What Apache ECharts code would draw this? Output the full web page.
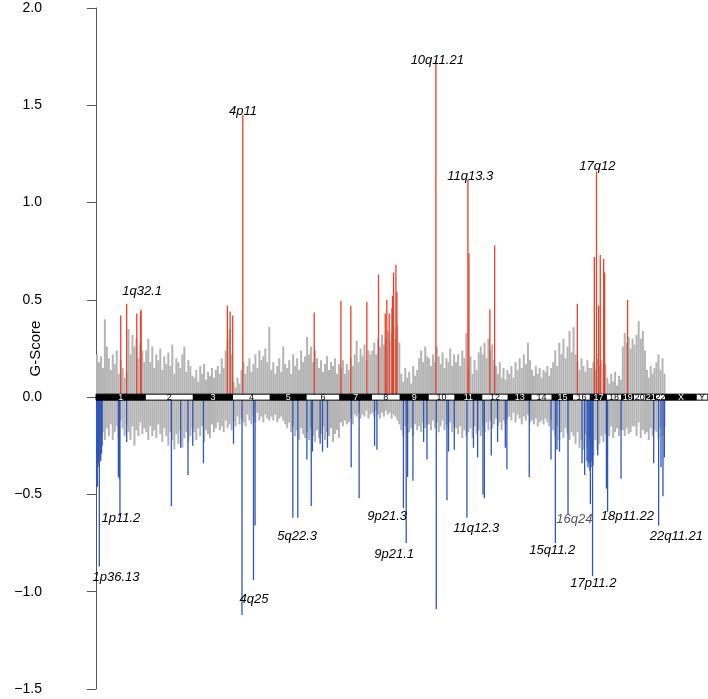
<!DOCTYPE html>
<html><head><meta charset="utf-8">
<script src="https://cdn.jsdelivr.net/npm/echarts@6/dist/echarts.min.js"></script>
<style>html,body{margin:0;padding:0;background:#fff}#c{width:708px;height:699px}</style>
</head><body><div id="c"></div>
<script>
// ---- data ----
const chromNames = ['1','2','3','4','5','6','7','8','9','10','11','12','13','14','15','16','17','18','19','20','21','22','X','Y'];
const chromLengths = [249,243,198,191,181,171,159,146,141,136,135,134,115,107,103,90,81,78,59,63,48,51,155,59];

// gray (non-significant) G-scores per chromosome, amplification side
const grayAmp = [
 [0.22,0.18,0.21,0.15,0.40,0.26,0.20,0.14,0.22,0.17,0.24,0.12,0.19,0.15,0.10,0.13,0.35,0.22,0.32,0.26,0.30,0.20,0.28,0.24,0.18],
 [0.24,0.30,0.18,0.26,0.15,0.22,0.19,0.25,0.14,0.21,0.17,0.23,0.16,0.27,0.12,0.20,0.18,0.15,0.22,0.26,0.13,0.19,0.16,0.11],
 [0.10,0.14,0.08,0.16,0.12,0.17,0.09,0.13,0.11,0.15,0.10,0.14,0.16,0.12,0.20,0.15,0.24,0.30,0.35,0.22],
 [0.08,0.05,0.10,0.07,0.14,0.18,0.12,0.16,0.20,0.13,0.17,0.22,0.15,0.24,0.19,0.21,0.25,0.18,0.36],
 [0.14,0.18,0.12,0.16,0.20,0.13,0.26,0.17,0.15,0.19,0.12,0.22,0.16,0.20,0.14,0.24,0.18,0.21],
 [0.31,0.22,0.26,0.18,0.24,0.20,0.15,0.19,0.13,0.17,0.21,0.14,0.18,0.16,0.20,0.12,0.17],
 [0.15,0.19,0.12,0.17,0.14,0.20,0.16,0.22,0.29,0.18,0.25,0.21,0.27,0.19,0.24,0.22],
 [0.24,0.28,0.22,0.30,0.26,0.32,0.27,0.30,0.34,0.29,0.33,0.36,0.30,0.37,0.28],
 [0.12,0.08,0.15,0.10,0.13,0.07,0.16,0.11,0.14,0.20,0.24,0.18,0.26,0.21],
 [0.20,0.16,0.22,0.18,0.26,0.21,0.17,0.23,0.15,0.20,0.18,0.25,0.16,0.22],
 [0.18,0.22,0.16,0.24,0.20,0.33,0.15,0.21,0.12,0.19,0.14,0.23,0.26],
 [0.22,0.28,0.20,0.30,0.24,0.27,0.19,0.16,0.12,0.18,0.10,0.15,0.09,0.14],
 [0.12,0.16,0.10,0.18,0.14,0.20,0.15,0.22,0.17,0.28,0.19],
 [0.14,0.11,0.16,0.12,0.15,0.10,0.14,0.13,0.16,0.11,0.15],
 [0.18,0.24,0.16,0.28,0.22,0.30,0.20,0.26,0.34,0.23],
 [0.36,0.22,0.18,0.14,0.20,0.16,0.13,0.19,0.15],
 [0.15,0.18,0.14,0.20,0.16,0.19,0.15,0.17],
 [0.10,0.07,0.12,0.08,0.13,0.06,0.11,0.09],
 [0.26,0.33,0.28,0.31,0.25,0.30],
 [0.27,0.32,0.39,0.30,0.34,0.24],
 [0.14,0.10,0.16,0.12,0.15],
 [0.18,0.22,0.14,0.20,0.12]
];
// gray G-scores per chromosome, deletion side
const grayDel = [
 [-0.30,-0.28,-0.20,-0.18,-0.22,-0.16,-0.20,-0.14,-0.22,-0.18,-0.15,-0.21,-0.12,-0.16,-0.20,-0.14,-0.18,-0.22,-0.15,-0.25,-0.17,-0.20,-0.13,-0.19,-0.16],
 [-0.18,-0.22,-0.15,-0.20,-0.17,-0.21,-0.14,-0.19,-0.23,-0.16,-0.20,-0.25,-0.18,-0.22,-0.27,-0.19,-0.24,-0.17,-0.26,-0.21,-0.18,-0.23,-0.20,-0.16],
 [-0.18,-0.22,-0.16,-0.20,-0.15,-0.23,-0.17,-0.19,-0.21,-0.14,-0.18,-0.16,-0.13,-0.17,-0.15,-0.18,-0.12,-0.16,-0.14,-0.17],
 [-0.12,-0.15,-0.10,-0.14,-0.11,-0.13,-0.15,-0.09,-0.12,-0.14,-0.10,-0.13,-0.08,-0.12,-0.10,-0.13,-0.09,-0.11,-0.12],
 [-0.10,-0.12,-0.09,-0.13,-0.11,-0.10,-0.12,-0.14,-0.16,-0.13,-0.18,-0.15,-0.20,-0.17,-0.22,-0.16,-0.19,-0.21],
 [-0.18,-0.22,-0.16,-0.20,-0.23,-0.17,-0.21,-0.19,-0.15,-0.22,-0.18,-0.20,-0.16,-0.23,-0.19,-0.17,-0.21],
 [-0.13,-0.15,-0.12,-0.14,-0.13,-0.11,-0.14,-0.09,-0.10,-0.08,-0.11,-0.09,-0.10,-0.07,-0.11,-0.09],
 [-0.08,-0.10,-0.07,-0.09,-0.11,-0.08,-0.10,-0.07,-0.09,-0.08,-0.11,-0.09,-0.10,-0.12,-0.14],
 [-0.17,-0.20,-0.15,-0.19,-0.18,-0.16,-0.20,-0.14,-0.17,-0.15,-0.18,-0.13,-0.16,-0.14],
 [-0.14,-0.17,-0.12,-0.16,-0.13,-0.18,-0.15,-0.12,-0.17,-0.14,-0.16,-0.13,-0.18,-0.15],
 [-0.16,-0.19,-0.15,-0.21,-0.17,-0.20,-0.18,-0.16,-0.21,-0.15,-0.19,-0.17,-0.20],
 [-0.15,-0.18,-0.13,-0.17,-0.12,-0.16,-0.14,-0.11,-0.15,-0.13,-0.17,-0.12,-0.14,-0.11],
 [-0.10,-0.12,-0.08,-0.13,-0.09,-0.11,-0.14,-0.10,-0.12,-0.09,-0.13],
 [-0.12,-0.14,-0.11,-0.15,-0.13,-0.12,-0.14,-0.11,-0.13,-0.15,-0.12],
 [-0.17,-0.20,-0.15,-0.22,-0.18,-0.21,-0.16,-0.19,-0.22,-0.18],
 [-0.20,-0.24,-0.18,-0.26,-0.22,-0.27,-0.19,-0.25,-0.21],
 [-0.25,-0.30,-0.22,-0.27,-0.24,-0.20,-0.23,-0.19],
 [-0.17,-0.20,-0.15,-0.21,-0.18,-0.16,-0.20,-0.17],
 [-0.17,-0.20,-0.16,-0.19,-0.18,-0.15],
 [-0.15,-0.20,-0.13,-0.21,-0.17,-0.19],
 [-0.18,-0.22,-0.16,-0.20,-0.17],
 [-0.18,-0.21,-0.16,-0.20,-0.15]
];

// significant amplification peaks: [genome position (Mb), G-score]
const ampPeaks = [
 [125,0.42],[155,0.48],[206,0.43],[225,0.44],[228,0.45],
 [664,0.47],[678,0.44],[691,0.42],[742,1.45],
 [1103,0.435],[1238,0.495],[1288,0.47],[1369,0.49],
 [1428,0.63],[1462,0.43],[1470,0.50],[1482,0.43],[1496,0.46],[1499,0.52],[1504,0.64],[1516,0.68],[1521,0.54],
 [1718,1.73],[1880,1.12],[1885,0.74],[1991,0.45],[2015,0.78],
 [2433,0.48],[2519,0.72],[2530,1.16],[2541,0.47],[2549,0.73],[2566,0.71],[2571,0.64],[2687,0.50]
];
// significant deletion peaks: [genome position (Mb), G-score]
const delPeaks = [
 [3,-0.44],[6.6,-0.46],[10,-0.36],[13,-0.34],[16.7,-0.87],[20,-0.31],[24,-0.33],[28,-0.29],[31,-0.25],
 [113,-0.41],[118,-0.42],[121,-0.61],[155,-0.23],
 [381,-0.56],[428,-0.26],[465,-0.40],[489,-0.25],[543,-0.34],[695,-0.24],
 [738,-1.12],[796,-0.94],[804,-0.66],
 [995,-0.62],[1020,-0.62],[1066,-0.32],[1088,-0.56],[1094,-0.28],[1133,-0.24],[1145,-0.28],[1170,-0.26],
 [1290,-0.36],[1330,-0.52],[1408,-0.25],[1420,-0.27],
 [1554,-0.57],[1568,-0.75],[1575,-0.41],[1602,-0.43],[1656,-0.23],[1673,-0.32],
 [1720,-1.09],[1774,-0.53],[1782,-0.28],[1811,-0.27],
 [1875,-0.62],[1908,-0.26],[1929,-0.31],[1956,-0.50],[1963,-0.52],[1998,-0.30],[2030,-0.23],[2069,-0.26],[2077,-0.37],
 [2190,-0.41],[2300,-0.32],[2322,-0.75],[2330,-0.27],[2343,-0.28],[2386,-0.60],
 [2457,-0.34],[2470,-0.40],[2482,-0.33],[2487,-0.36],[2492,-0.34],[2497,-0.38],[2499,-0.55],[2502,-0.36],[2507,-0.33],[2510,-0.92],[2512,-0.35],
 [2536,-0.30],[2580,-0.47],[2586,-0.59],[2654,-0.42],
 [2819,-0.34],[2844,-0.66],[2856,-0.36],[2866,-0.51],[2873,-0.31]
];

// peak region labels: [text, genome position (Mb), G-score]
const peakLabels = [
 ['1q32.1',233,0.545],['4p11',743,1.47],['10q11.21',1725,1.73],['11q13.3',1892,1.136],['17q12',2534,1.187],
 ['1p11.2',126,-0.622],['1p36.13',101,-0.925],['4q25',799,-1.038],['5q22.3',1017,-0.714],
 ['9p21.3',1472,-0.611],['9p21.1',1507,-0.807],['11q12.3',1922,-0.673],['15q11.2',2306,-0.786],
 ['16q24',2418,-0.627],['17p11.2',2514,-0.956],['18p11.22',2686,-0.611],['22q11.21',2934,-0.714]
];
const dimLabels = ['16q24'];

const yMin = -1.5, yMax = 2.0, yStep = 0.5;

// ---- build ----
const chromStart = [];
let acc = 0;
chromLengths.forEach(function(l){ chromStart.push(acc); acc += l; });
const genomeEnd = acc;

function spread(arrs){
  const out = [];
  arrs.forEach(function(vals, ci){
    const n = vals.length, s = chromStart[ci], L = chromLengths[ci];
    vals.forEach(function(v, j){ out.push([s + (j + 0.5) * L / n, v]); });
  });
  return out;
}
const grayAmpData = spread(grayAmp);
const grayDelData = spread(grayDel);
const chromData = chromNames.map(function(n, i){ return [chromStart[i], chromStart[i] + chromLengths[i], i]; });

function stick(color, width){
  return function(params, api){
    const x = api.value(0), v = api.value(1);
    const p0 = api.coord([x, 0]), p1 = api.coord([x, v]);
    return {type:'line', shape:{x1:p0[0], y1:p0[1], x2:p1[0], y2:p1[1]},
            style:{stroke:color, lineWidth:width}};
  };
}

const chart = echarts.init(document.getElementById('c'), null, {renderer:'canvas'});
const xPad = 121.4;
chart.setOption({
  animation:false,
  backgroundColor:'#fff',
  grid:{left:72, right:0, top:8, bottom:10, containLabel:false, outerBoundsMode:'none'},
  xAxis:{type:'value', min:-xPad, max:genomeEnd + 0.6, show:false},
  yAxis:{
    type:'value', min:yMin, max:yMax, interval:yStep,
    name:'G-Score', nameLocation:'middle', nameGap:29, nameMoveOverlap:false,
    nameTextStyle:{fontSize:15, color:'#000', fontFamily:'Liberation Sans'},
    axisLine:{show:true, lineStyle:{color:'#555', width:1}},
    axisTick:{show:true, length:9, lineStyle:{color:'#555'}},
    axisLabel:{fontSize:14, color:'#000', fontFamily:'Liberation Sans', margin:30,
      formatter:function(v){ return v.toFixed(1).replace('-', '\u2212'); }},
    splitLine:{show:false}
  },
  series:[
    {type:'custom', data:grayAmpData, encode:{x:0,y:1}, renderItem:stick('#b4b4b4',2.0), z:1},
    {type:'custom', data:grayDelData, encode:{x:0,y:1}, renderItem:stick('#b4b4b4',2.0), z:1},
    {type:'custom', data:ampPeaks, encode:{x:0,y:1}, renderItem:stick('#e5402a',1.3), z:2},
    {type:'custom', data:delPeaks, encode:{x:0,y:1}, renderItem:stick('#2f56b8',1.3), z:2},
    {type:'custom', data:chromData, encode:{x:[0,1]}, z:3, clip:false,
      renderItem:function(params, api){
        const i = api.value(2);
        const a = api.coord([api.value(0), 0]), b = api.coord([api.value(1), 0]);
        const dark = (i % 2 === 0);
        return {type:'group', children:[
          {type:'rect', shape:{x:a[0], y:a[1]-3, width:b[0]-a[0], height:6},
           style:{fill: dark ? '#000' : '#fff', stroke:'#000', lineWidth:1}},
          {type:'text', style:{text:chromNames[i], x:(a[0]+b[0])/2, y:a[1]+0.5, align:'center', verticalAlign:'middle',
             fill: dark ? '#fff' : '#000', font:'9px "Liberation Sans"'}}
        ]};
      }},
    {type:'custom', data:peakLabels.map(function(d){ return [d[1], d[2], d[0]]; }), encode:{x:0,y:1}, z:4, clip:false,
      renderItem:function(params, api){
        const p = api.coord([api.value(0), api.value(1)]);
        const t = peakLabels[params.dataIndex][0];
        return {type:'text', style:{text:t, x:p[0], y:p[1], align:'center', verticalAlign:'middle',
          fill: dimLabels.indexOf(t) >= 0 ? '#555' : '#000', font:'italic 13px "Liberation Sans"'}};
      }}
  ]
});
</script></body></html>
